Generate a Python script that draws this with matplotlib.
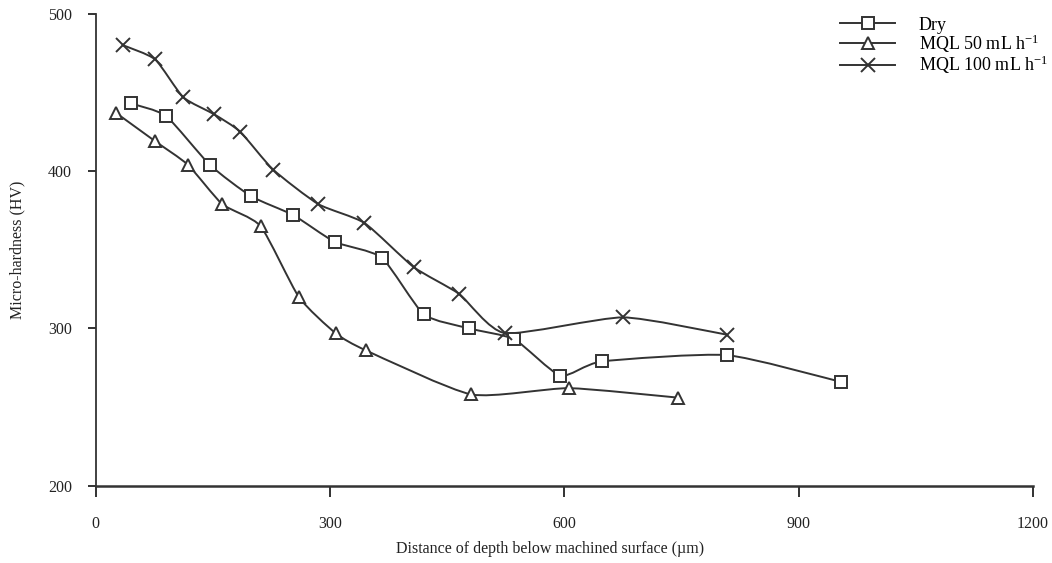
import matplotlib
matplotlib.use("Agg")
import matplotlib.pyplot as plt
import numpy as np
from matplotlib.path import Path
from matplotlib.patches import PathPatch
from matplotlib.lines import Line2D

plt.rcParams['font.family'] = ['Liberation Serif', 'DejaVu Serif']
plt.rcParams['mathtext.fontset'] = 'custom'
plt.rcParams['mathtext.rm'] = 'Liberation Serif'
plt.rcParams['mathtext.it'] = 'Liberation Serif:italic'

# Data
dry_x = [45, 90, 146, 199, 253, 306, 366, 420, 478, 536, 595, 648, 808, 954]
dry_y = [443, 435, 404, 384, 372, 355, 345, 309, 300, 293, 270, 279, 283, 266]

mql50_x = [26, 76, 118, 162, 211, 260, 307, 346, 481, 606, 745]
mql50_y = [437, 419, 404, 379, 365, 320, 297, 286, 258, 262, 256]

mql100_x = [35, 76, 112, 152, 185, 227, 285, 344, 407, 465, 524, 675, 808]
mql100_y = [480, 471, 447, 436, 425, 401, 379, 367, 339, 322, 297, 307, 296]

labels = ["Dry", "MQL 50 mL h$^{-1}$", "MQL 100 mL h$^{-1}$"]
markers = ['s', '^', 'x']
xticks = [0, 300, 600, 900, 1200]
yticks = [200, 300, 400, 500]

color = '#333333'
lw = 1.4


def smooth_path(x, y, k=1.0 / 10.0):
    p = np.column_stack([x, y]).astype(float)
    n = len(p)
    verts = [p[0]]
    codes = [Path.MOVETO]
    for i in range(n - 1):
        p0 = p[i - 1] if i > 0 else p[i]
        p1 = p[i]
        p2 = p[i + 1]
        p3 = p[i + 2] if i + 2 < n else p[i + 1]
        c1 = p1 + (p2 - p0) * k
        c2 = p2 - (p3 - p1) * k
        verts += [c1, c2, p2]
        codes += [Path.CURVE4] * 3
    return Path(verts, codes)


fig = plt.figure(figsize=(10.52, 5.63), dpi=100)
ax = fig.add_axes([0.091, 0.1373, 0.891, 0.8382])

series = [(dry_x, dry_y), (mql50_x, mql50_y), (mql100_x, mql100_y)]
msizes = [8.5, 8.5, 9.5]
handles = []
for (sx, sy), lab, mk, ms in zip(series, labels, markers, msizes):
    patch = PathPatch(smooth_path(sx, sy), facecolor='none', edgecolor=color,
                      lw=lw, transform=ax.transData, zorder=2)
    ax.add_patch(patch)
    ax.plot(sx, sy, linestyle='none', marker=mk, markersize=ms,
            markerfacecolor='white', markeredgecolor=color,
            markeredgewidth=1.4, zorder=3)
    handles.append(Line2D([], [], color=color, lw=lw, marker=mk, markersize=ms,
                          markerfacecolor='white', markeredgecolor=color,
                          markeredgewidth=1.4, label=lab))

ax.set_xlim(0, 1200)
ax.set_ylim(200, 500)
ax.set_xticks(xticks)
ax.set_yticks(yticks)
ax.spines['top'].set_visible(False)
ax.spines['right'].set_visible(False)
ax.spines['left'].set_color(color)
ax.spines['bottom'].set_color(color)
ax.spines['left'].set_linewidth(1.3)
ax.spines['bottom'].set_linewidth(1.8)
ax.tick_params(axis='x', direction='out', length=8, width=1.3, pad=14,
               labelsize=11.5, colors='#222222')
ax.tick_params(axis='y', direction='out', length=6, width=1.3, pad=11,
               labelsize=11.5, colors='#222222')

ax.set_xlabel("Distance of depth below machined surface (µm)", fontsize=11.5,
              color='#222222')
ax.xaxis.set_label_coords(0.485, -0.118)
ax.set_ylabel("Micro-hardness (HV)", fontsize=11.5, color='#222222')
ax.yaxis.set_label_coords(-0.075, 0.5)

fig.legend(handles=handles, loc='upper left', bbox_to_anchor=(0.7985, 0.9705),
           frameon=False, fontsize=13, handlelength=3.05, handletextpad=1.3,
           labelspacing=-0.07, borderpad=0, borderaxespad=0)

fig.savefig("out.png", dpi=100)
